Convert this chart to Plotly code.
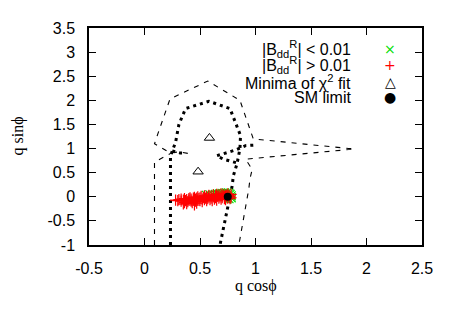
import plotly.graph_objects as go

# ---- data ----
# outer contour (dashed)
outer_x = [0.39, 0.31, 0.23, 0.15, 0.09, 0.13, 0.23, 0.57, 0.86, 0.98, 1.89, 0.91, 0.97, 0.95, 0.94, 0.85,
           None, 0.09, 0.09, 0.17, 0.23]
outer_y = [0.90, 0.93, 0.91, 1.02, 1.10, 1.37, 2.03, 2.40, 2.00, 1.20, 0.99, 0.78, 0.57, 0.37, 0.17, -1.0,
           None, -1.0, 0.72, 0.82, 0.89]
# inner contour (dotted)
inner_x = [0.234, 0.234, 0.25, 0.28, 0.31, 0.37, 0.58, 0.77, 0.865, 0.86, 0.835, 0.80, 0.79, 0.68,
           None, 0.98, 0.91, 0.82, 0.71, 0.65, 0.71, 0.78, 0.835,
           None, 0.25, 0.32, 0.37]
inner_y = [-1.0, 0.83, 0.95, 1.13, 1.50, 1.83, 1.98, 1.83, 1.27, 1.00, 0.70, 0.43, 0.23, -1.0,
           None, 1.07, 1.06, 0.97, 0.90, 0.85, 0.78, 0.73, 0.70,
           None, 0.95, 0.91, 0.91]

green_x = [0.55, 0.58, 0.61, 0.63, 0.65, 0.67, 0.69, 0.71, 0.73, 0.75, 0.77, 0.78, 0.79, 0.79, 0.79, 0.77, 0.75]
green_y = [0.05, 0.06, 0.06, 0.07, 0.08, 0.08, 0.09, 0.09, 0.10, 0.10, 0.09, 0.07, 0.04, 0.00, -0.04, -0.06, -0.07]

red_x = [0.28, 0.30, 0.31, 0.33, 0.33, 0.35, 0.36, 0.36, 0.37, 0.38, 0.39, 0.40, 0.40, 0.41, 0.42, 0.42,
         0.43, 0.44, 0.44, 0.45, 0.46, 0.46, 0.47, 0.48, 0.48, 0.49, 0.50, 0.50, 0.51, 0.52, 0.52, 0.53,
         0.54, 0.54, 0.55, 0.56, 0.56, 0.57, 0.58, 0.58, 0.59, 0.60, 0.60, 0.61, 0.62, 0.62, 0.63, 0.64,
         0.64, 0.65, 0.65, 0.66, 0.67, 0.67, 0.68, 0.69, 0.69, 0.70, 0.70, 0.71, 0.72, 0.72, 0.73, 0.73,
         0.74, 0.75, 0.75, 0.76, 0.77, 0.77, 0.78, 0.78, 0.35, 0.38, 0.45, 0.47]
red_y = [-0.07, -0.08, -0.06, -0.09, -0.05, -0.07, -0.04, -0.12, -0.08, -0.06, -0.10, -0.04, -0.07, -0.02,
         -0.09, -0.05, -0.12, -0.03, -0.07, -0.01, -0.05, -0.09, -0.03, -0.07, 0.00, -0.04, -0.08, -0.02,
         0.01, -0.05, -0.10, -0.02, 0.02, -0.06, -0.03, 0.01, -0.08, -0.04, 0.03, -0.01, -0.06, 0.02, -0.03,
         -0.08, 0.04, 0.00, -0.05, 0.02, -0.02, 0.05, -0.07, 0.01, -0.03, 0.04, 0.00, -0.05, 0.06, 0.02,
         -0.02, 0.05, -0.04, 0.01, 0.04, -0.06, 0.02, -0.03, 0.06, 0.03, -0.04, 0.01, 0.05, -0.02,
         -0.15, -0.14, -0.17, -0.13]

minima_x = [0.585, 0.483]
minima_y = [1.22, 0.52]
sm_x = [0.75]
sm_y = [0.0]

x_ticks = [-0.5, 0, 0.5, 1, 1.5, 2, 2.5]
y_ticks = [-1, -0.5, 0, 0.5, 1, 1.5, 2, 2.5, 3, 3.5]

legend_labels = ["|B<sub>dd</sub><sup>R</sup>| &lt; 0.01",
                 "|B<sub>dd</sub><sup>R</sup>| &gt; 0.01",
                 "Minima of χ<sup>2</sup> fit",
                 "SM limit"]
legend_symbols = ["×", "+", "△", "●"]
legend_colors = ["#00e000", "#ff0000", "#000000", "#000000"]

fig = go.Figure()
fig.add_trace(go.Scatter(x=outer_x, y=outer_y, mode="lines",
                         line=dict(color="black", width=1.1, dash="5px,6px")))
fig.add_trace(go.Scatter(x=inner_x, y=inner_y, mode="lines",
                         line=dict(color="black", width=3, dash="3px,4px")))
fig.add_trace(go.Scatter(x=green_x, y=green_y, mode="markers",
                         marker=dict(symbol="x-thin", size=7, line=dict(color="#00e000", width=1.2))))
fig.add_trace(go.Scatter(x=red_x, y=red_y, mode="markers",
                         marker=dict(symbol="cross-thin", size=8, line=dict(color="#ff0000", width=1.2))))
fig.add_trace(go.Scatter(x=minima_x, y=minima_y, mode="markers",
                         marker=dict(symbol="triangle-up-open", size=9, color="black", line=dict(width=1))))
fig.add_trace(go.Scatter(x=sm_x, y=sm_y, mode="markers",
                         marker=dict(symbol="circle", size=8, color="black")))

font = dict(family="Liberation Sans, Arial, sans-serif", size=16, color="black")
axis_common = dict(showline=True, linecolor="black", linewidth=1.5, mirror="ticks",
                   ticks="inside", ticklen=7, tickcolor="black", tickwidth=1.2,
                   showgrid=False, zeroline=False, tickfont=font)

fig.update_xaxes(range=[-0.5, 2.5], tickvals=x_ticks, ticktext=[f"{v:g}" for v in x_ticks],
                 ticklabelstandoff=8, **axis_common)
fig.update_yaxes(range=[-1, 3.5], tickvals=y_ticks, ticktext=[f"{v:g}" for v in y_ticks],
                 ticklabelstandoff=9, **axis_common)

serif = dict(family="Liberation Serif, Times New Roman, serif", size=16, color="black")
annotations = [
    dict(text="q cosϕ", xref="paper", yref="paper", x=0.5, y=-0.19, xanchor="center", yanchor="middle",
         showarrow=False, font=serif),
    dict(text="q sinϕ", xref="paper", yref="paper", x=(17 - 89) / 333, y=0.5, xanchor="center",
         yanchor="middle", textangle=-90, showarrow=False, font=serif),
]
row_y = [42, 58, 76, 92]  # pixel centres of legend rows (page coords)
for lab, sym, col, py in zip(legend_labels, legend_symbols, legend_colors, row_y):
    yp = (245 - py) / 225
    annotations.append(dict(text=lab, xref="paper", yref="paper", x=(353 - 89) / 333, y=yp,
                            xanchor="right", yanchor="middle", showarrow=False, font=font))
    annotations.append(dict(text=sym, xref="paper", yref="paper", x=(390 - 89) / 333, y=yp,
                            xanchor="center", yanchor="middle", showarrow=False,
                            font=dict(family="DejaVu Sans", size=14, color=col)))

# page body has an 8px margin, so the figure is shrunk and margins offset accordingly
fig.update_layout(width=442, height=307, margin=dict(l=81, r=28, t=12, b=70),
                  paper_bgcolor="white", plot_bgcolor="white", showlegend=False,
                  annotations=annotations, font=font)

fig.write_html("out.html")
